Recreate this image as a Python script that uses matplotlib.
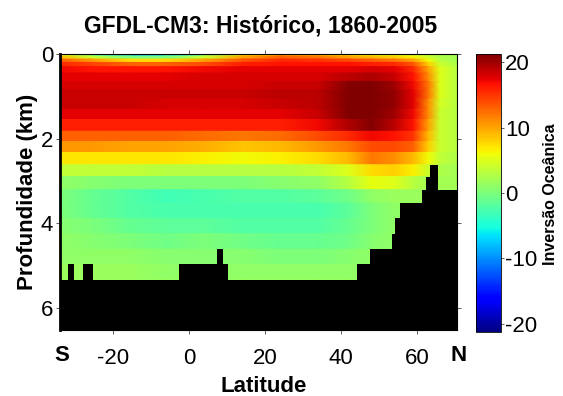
import numpy as np
import matplotlib
matplotlib.use("Agg")
import matplotlib.pyplot as plt

plt.rcParams["font.family"] = ["Liberation Sans", "DejaVu Sans"]
plt.rcParams["axes.unicode_minus"] = False

# latitude knots (deg) where the inversion field is given
lat_knots = [-34, -26, -16, -6, 4, 14, 24, 34, 42, 48, 54, 59, 63, 66, 70.5]

# model layers (km)
layer_top = [0.0, 0.05, 0.12, 0.2, 0.3, 0.45, 0.65, 0.85, 1.07, 1.31, 1.55, 1.83,
             2.07, 2.33, 2.62, 2.9, 3.21, 3.53, 3.89, 4.25, 4.62, 4.98, 5.34]
layer_bottom = [0.05, 0.12, 0.2, 0.3, 0.45, 0.65, 0.85, 1.07, 1.31, 1.55, 1.83, 2.07,
                2.33, 2.62, 2.9, 3.21, 3.53, 3.89, 4.25, 4.62, 4.98, 5.34, 6.6]

# ocean inversion, one row per layer, one column per latitude knot
inversion = [
    [6, -2, -8, -7, -1, 7, 10, 9, 7, 6, 5, 4, 3, 2, 1.5],
    [9, 4, 0, 0, 4, 10, 13, 12, 10, 9, 8, 6.5, 4, 2.5, 2],
    [13, 10.5, 7.5, 7.5, 10, 13.5, 15.5, 15, 14, 13, 12, 10, 6, 3, 2],
    [15.5, 14.5, 13, 13, 14, 16, 16.5, 16.5, 16.5, 16, 15.5, 13.5, 8, 4, 2.5],
    [17, 16.5, 16.5, 16.5, 17, 17.5, 17.5, 17.5, 17.5, 18, 17.5, 15.5, 10, 5, 3],
    [17.5, 17.5, 17.5, 17.5, 18, 18, 18, 18, 19, 19.5, 18.5, 16.5, 11, 5, 3],
    [18, 18, 18, 18, 18, 18, 18.5, 18.5, 21, 21.5, 20, 17, 12, 5, 3],
    [18.5, 18.5, 18.5, 18.5, 18.5, 18.5, 19, 19, 22, 22, 20.5, 17.5, 12, 5, 3],
    [18.5, 18.5, 18.5, 18, 18, 18, 18.5, 19, 22, 22, 20.5, 17.5, 11, 4.5, 3],
    [17.5, 17.5, 17.5, 17.5, 17.5, 17.5, 17.5, 18.5, 21.5, 22, 20, 17, 11, 4, 3],
    [16, 16, 16, 16, 16, 16, 16, 17, 19.5, 21, 19, 16.5, 10, 4, 3],
    [13, 13, 13, 13, 12.5, 12, 12.5, 14, 15.5, 17, 16.5, 15, 9, 4, 3],
    [10.5, 10.5, 10, 10, 9.5, 8.5, 9, 10.5, 12, 14, 14, 13, 8, 4, 3],
    [7, 7, 7, 7, 6.5, 6, 6.5, 7.5, 9, 12, 11, 9, 6, 3.5, 2.5],
    [3.5, 3.5, 3.5, 3, 3, 3, 3, 3.5, 5, 7.5, 8, 6.5, 4, 2.5, 2],
    [1, 0.5, 0, 0, 0, 0, 0.5, 1, 3, 5.5, 5, 3, 2, 2, 2],
    [0, -1, -2, -3, -2.5, -2, -2, -1.5, -0.5, 1, 1.5, 1.5, 1.5, 1.5, 1.5],
    [0, -1, -2, -2.5, -2.5, -2.5, -2.5, -2.5, -1.5, 0, 1, 1, 1, 1, 1],
    [0.5, 0, -1, -1.5, -1.5, -2, -2, -2, -1, 0, 1, 1, 1, 1, 1],
    [1, 0.5, 0, -0.5, 0, -0.5, -1, -1, -0.5, 0.5, 1, 1, 1, 1, 1],
    [1, 1, 1, 0.5, 0.5, 0.5, 0, 0, 0.5, 1, 1, 1, 1, 1, 1],
    [1.5, 1.5, 1.5, 1, 1, 1, 1, 1, 1, 1, 1, 1, 1, 1, 1],
    [1.5, 1.5, 1.5, 1.5, 1.5, 1.5, 1.5, 1.5, 1.5, 1.5, 1.5, 1.5, 1.5, 1.5, 1.5],
]

# sea floor: segment edges (deg) and floor depth of each segment (km)
floor_lat = [-34, -32, -30.2, -28, -25.2, -2.8, 7.2, 8.8, 10.2, 44.1, 47.6,
             53.3, 54.2, 55.5, 61.2, 62.4, 63.4, 65.4, 70.5]
floor_depth = [5.34, 4.98, 5.34, 4.98, 5.34, 4.98, 4.62, 4.98, 5.34, 4.98, 4.62,
               4.25, 3.89, 3.53, 3.21, 2.90, 2.62, 3.21]

x_ticks = [-20, 0, 20, 40, 60]
y_ticks = [0, 2, 4, 6]
cbar_ticks = [-20, -10, 0, 10, 20]

fig = plt.figure(figsize=(5.63, 3.96), dpi=100)
ax = fig.add_axes([0.1066, 0.1667, 0.7051, 0.6970])
cax = fig.add_axes([0.8455, 0.1616, 0.0444, 0.7020])

# two node rows per layer -> flat colour inside a layer, smooth along latitude
node_depth = np.column_stack([layer_top, layer_bottom]).ravel()
node_val = np.repeat(np.array(inversion, dtype=float), 2, axis=0)
X, Y = np.meshgrid(lat_knots, node_depth)
mesh = ax.pcolormesh(X, Y, node_val, shading="gouraud", cmap="jet",
                     vmin=-21.3, vmax=21.3, rasterized=True)

ax.fill_between(floor_lat, floor_depth + floor_depth[-1:], 7, step="post",
                color="black", linewidth=0)

ax.set_xlim(-34, 70.5)
ax.set_ylim(6.53, 0)
ax.set_xticks(x_ticks)
ax.set_yticks(y_ticks)
ax.tick_params(direction="out", length=3, width=0.6, top=True, right=True,
               labelsize=16, color="#444444")
ax.tick_params(axis="x", pad=10)
ax.tick_params(axis="y", pad=2)
for sp in ax.spines.values():
    sp.set_linewidth(0.8)
ax.spines["left"].set_linewidth(2)

cbar = fig.colorbar(mesh, cax=cax, ticks=cbar_ticks)
cbar.ax.tick_params(direction="out", length=2, width=0.6, labelsize=16, pad=1,
                    color="#444444")
cbar.outline.set_linewidth(0.6)

fig.text(0.4636, 0.9167, "GFDL-CM3: Histórico, 1860-2005", ha="center",
         va="baseline", fontsize=16.5, fontweight="bold")
fig.text(0.048, 0.515, "Profundidade (km)", rotation=90, ha="center",
         va="center", fontsize=16, fontweight="bold")
fig.text(0.469, 0.010, "Latitude", ha="center", va="baseline",
         fontsize=16, fontweight="bold")
fig.text(0.110, 0.088, "S", ha="center", va="baseline", fontsize=16,
         fontweight="bold")
fig.text(0.814, 0.088, "N", ha="center", va="baseline", fontsize=16,
         fontweight="bold")
fig.text(0.977, 0.51, "Inversão Oceânica", rotation=90, ha="center",
         va="center", fontsize=11.5, fontweight="bold")

fig.savefig("out.png", dpi=100)
